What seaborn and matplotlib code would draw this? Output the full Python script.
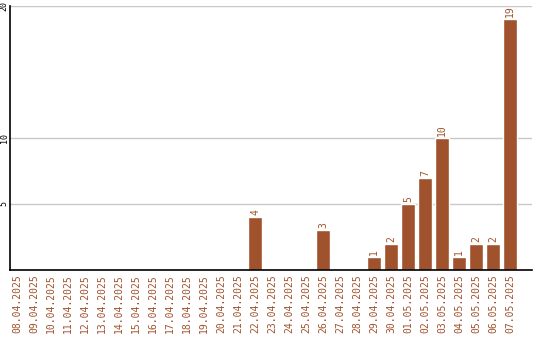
import matplotlib
matplotlib.use("Agg")
import matplotlib.pyplot as plt
import seaborn as sns
import pandas as pd

dates = ["08.04.2025", "09.04.2025", "10.04.2025", "11.04.2025", "12.04.2025",
         "13.04.2025", "14.04.2025", "15.04.2025", "16.04.2025", "17.04.2025",
         "18.04.2025", "19.04.2025", "20.04.2025", "21.04.2025", "22.04.2025",
         "23.04.2025", "24.04.2025", "25.04.2025", "26.04.2025", "27.04.2025",
         "28.04.2025", "29.04.2025", "30.04.2025", "01.05.2025", "02.05.2025",
         "03.05.2025", "04.05.2025", "05.05.2025", "06.05.2025", "07.05.2025"]
counts = [0, 0, 0, 0, 0, 0, 0, 0, 0, 0, 0, 0, 0, 0, 4,
          0, 0, 0, 3, 0, 0, 1, 2, 5, 7, 10, 1, 2, 2, 19]
yticks = [5, 10, 20]

sns.set_style("white")
plt.rcParams['font.family'] = ['DejaVu Sans Mono', 'DejaVu Sans']

color = "#A0522D"
df = pd.DataFrame({"date": dates, "count": counts})

fig = plt.figure(figsize=(5.4, 3.4), dpi=100)
ax = fig.add_axes([10 / 540, 70 / 340, 522 / 540, 264 / 340])
sns.barplot(data=df, x="date", y="count", color=color, width=0.82,
            saturation=1, ax=ax, zorder=3)

ax.set_ylim(0, 20)
ax.set_xlim(-0.41, 30.29)
ax.set_yticks(yticks)
ax.set_yticklabels([str(t) for t in yticks], rotation=90, va="center",
                   fontsize=6, color="black")
ax.yaxis.grid(True, color="#c8c8c8", linewidth=1, zorder=0)
ax.tick_params(axis="y", length=0, pad=1)
ax.tick_params(axis="x", length=0, pad=3)
ax.set_xticks(range(len(dates)))
ax.set_xticklabels(dates, rotation=90, fontsize=7, color=color)
ax.set_xlabel("")
ax.set_ylabel("")

for s in ["top", "right"]:
    ax.spines[s].set_visible(False)
for s in ["left", "bottom"]:
    ax.spines[s].set_color("black")
    ax.spines[s].set_linewidth(1.2)
    ax.spines[s].set_zorder(5)

for i, v in enumerate(counts):
    if v > 0:
        ax.text(i, v + 0.15, str(v), rotation=90, ha="center", va="bottom",
                fontsize=7, color=color)

fig.savefig("out.png", dpi=100)
